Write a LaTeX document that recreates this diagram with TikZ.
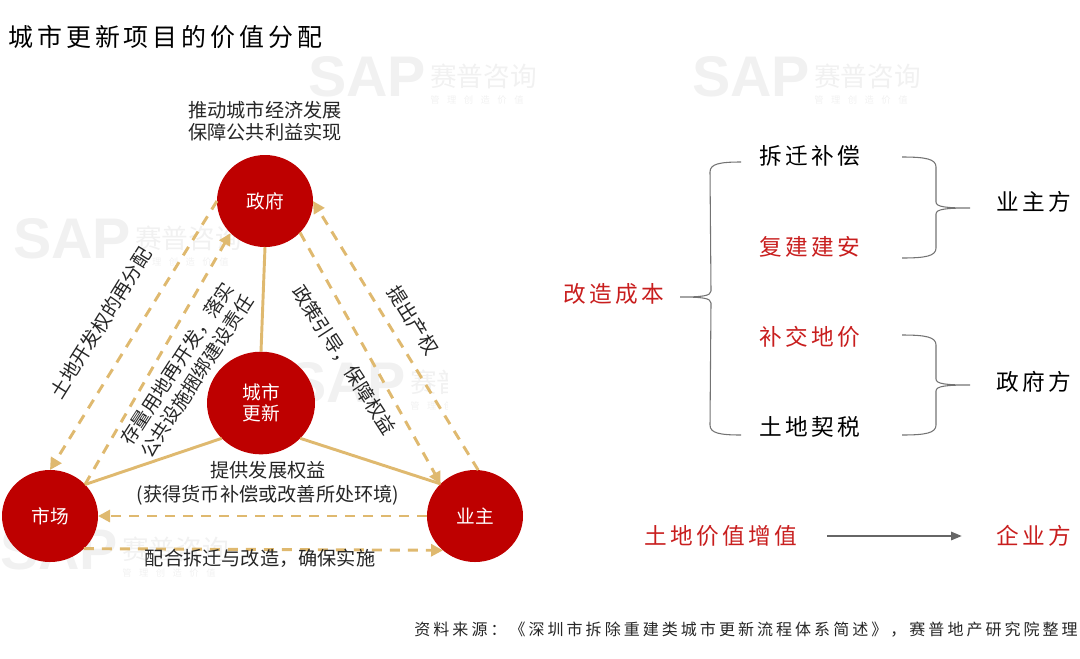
\documentclass[tikz,border=0pt]{standalone}
\usepackage{fontspec}
\setmainfont{Noto Sans CJK SC}
\newfontfamily\titlefont[LetterSpace=16]{Noto Sans CJK SC}
\newfontfamily\itemfont[LetterSpace=15]{Noto Sans CJK SC}
\newfontfamily\notefont[LetterSpace=19]{Noto Sans CJK SC}
\newfontfamily\stampfont[LetterSpace=80]{Noto Sans CJK SC}
\newfontfamily\sapfont{Liberation Sans}
\usetikzlibrary{arrows.meta,calc,shapes.geometric}
\definecolor{sapred}{HTML}{BE0000}
\definecolor{itemred}{HTML}{C81E1E}
\definecolor{gold}{HTML}{DFB96F}
\definecolor{stampgray}{HTML}{F1F1F1}
\tikzset{
  actor/.style={ellipse,fill=sapred,text=white,inner sep=0pt,outer sep=0pt,align=center,
    minimum width=72pt,minimum height=69pt,font=\fontsize{14}{16}\selectfont},
  label/.style={text=black!85,inner sep=0pt,align=center,font=\fontsize{14.4}{16}\selectfont},
  widelabel/.style={label,font=\fontsize{14.2}{17.6}\selectfont},
  item/.style={inner sep=0pt,font=\fontsize{17}{20}\itemfont},
  solidlink/.style={draw=gold,line width=2.2pt},
  dashlink/.style={draw=gold,line width=2.2pt,dash pattern=on 7.5pt off 6pt,
    -{Triangle[length=9pt,width=9pt]}},
  bracket/.style={draw=black!55,line width=0.8pt}
}
\newcommand{\stamp}[3]{
  \node[anchor=north west,inner sep=0pt,text=stampgray,font=\fontsize{43}{43}\sapfont\bfseries] (#1sap) at (#2,#3-9) {SAP};
  \node[anchor=north west,inner sep=0pt,text=stampgray,font=\fontsize{20}{20}\selectfont] (#1name) at (#2+122,#3-1) {赛普咨询};
  \node[anchor=north west,inner sep=0pt,text=stampgray,font=\fontsize{7}{7}\stampfont] (#1sub) at (#2+122,#3+30) {管理创造价值};
}
\newcommand{\sidebrace}[4]{
  \draw[bracket] (#1) .. controls ($(#1)+(0.7*#4,0)$) and ($(#1)+(#4,2)$) .. ($(#1)+(#4,10)$)
    -- ($(#2)+(-1*#4,-6)$) .. controls ($(#2)+(-1*#4,-1)$) and ($(#2)+(-0.7*#4,0)$) .. (#2)
    .. controls ($(#2)+(-0.7*#4,0)$) and ($(#2)+(-1*#4,1)$) .. ($(#2)+(-1*#4,6)$)
    -- ($(#3)+(#4,-10)$) .. controls ($(#3)+(#4,-2)$) and ($(#3)+(0.7*#4,0)$) .. (#3);
}
\begin{document}
\begin{tikzpicture}[x=0.75pt,y=-0.75pt]
  \useasboundingbox (0,0) rectangle (1080,658);
  \stamp{a}{13}{227}
  \stamp{b}{308}{65}
  \stamp{c}{692}{65}
  \stamp{d}{0}{538}
  \begin{scope}
    \clip (280,360) rectangle (447,420);
    \stamp{e}{288}{371}
  \end{scope}

  \node[anchor=west,inner sep=0pt,font=\fontsize{18.7}{22}\titlefont] (title) at (8,37) {城市更新项目的价值分配};

  \node[actor] (gov) at (265,201) {政府};
  \node[actor,minimum width=81pt,minimum height=77pt] (renew) at (261,403) {城市\\更新};
  \node[actor] (market) at (50,516) {市场};
  \node[actor] (owner) at (475,516) {业主};

  \draw[solidlink] (gov.south) -- (renew.north);
  \draw[solidlink] (renew.222) -- (market.42);
  \draw[solidlink] (renew.-42) -- (owner.137);

  \draw[dashlink] (gov.west) -- (market.north);
  \draw[dashlink] (market.42) -- (gov.223);
  \draw[dashlink] (gov.-42) -- (owner.137);
  \draw[dashlink] (owner.86) -- (gov.east);
  \draw[dashlink] (owner.west) -- (market.east);
  \draw[dashlink] (market.-44) -- (owner.227);

  \node[label] (goal) at (265,121) {推动城市经济发展\\保障公共利益实现};
  \node[label,rotate=58] (landright) at (101,323) {土地开发权的再分配};
  \node[widelabel,rotate=57] (stock) at (187,370) {存量用地再开发，落实\\公共设施捆绑建设责任};
  \node[label,rotate=-57] (policy) at (344,360) {政策引导，保障权益};
  \node[label,rotate=-58] (claim) at (413,320) {提出产权};
  \node[label,font=\fontsize{14.4}{17.8}\selectfont] (offer) at (268,483) {提供发展权益\\(获得货币补偿或改善所处环境)};
  \node[label] (coop) at (260,558) {配合拆迁与改造，确保实施};

  \node[item,text=itemred] (cost) at (614,294) {改造成本};
  \node[item] (demolish) at (810,156) {拆迁补偿};
  \node[item,text=itemred] (rebuild) at (810,247) {复建建安};
  \node[item,text=itemred] (premium) at (810,337) {补交地价};
  \node[item] (tax) at (810,427) {土地契税};
  \node[item] (ownerside) at (1034,202) {业主方};
  \node[item] (govside) at (1034,382) {政府方};
  \node[item,text=itemred] (gain) at (721,536) {土地价值增值};
  \node[item,text=itemred] (firm) at (1034,536) {企业方};

  \coordinate (costtip) at (680,297);
  \coordinate (costtop) at (741,162);
  \coordinate (costbot) at (741,435);
  \coordinate (ownertop) at (902,157);
  \coordinate (ownertip) at (970,208);
  \coordinate (ownerbot) at (902,258);
  \coordinate (govtop) at (902,335);
  \coordinate (govtip) at (970,385);
  \coordinate (govbot) at (902,435);
  \sidebrace{costtop}{costtip}{costbot}{-31}
  \sidebrace{ownertop}{ownertip}{ownerbot}{34}
  \sidebrace{govtop}{govtip}{govbot}{34}

  \draw[draw=black!60,line width=0.8pt,-{Triangle[length=8pt,width=6.5pt]}] ([xshift=22pt]gain.east) -- ([xshift=-26pt]firm.west);

  \node[anchor=east,inner sep=0pt,text=black!85,font=\fontsize{12}{14}\notefont] (source) at (1078,630)
    {资料来源：《深圳市拆除重建类城市更新流程体系简述》，赛普地产研究院整理};
\end{tikzpicture}
\end{document}
